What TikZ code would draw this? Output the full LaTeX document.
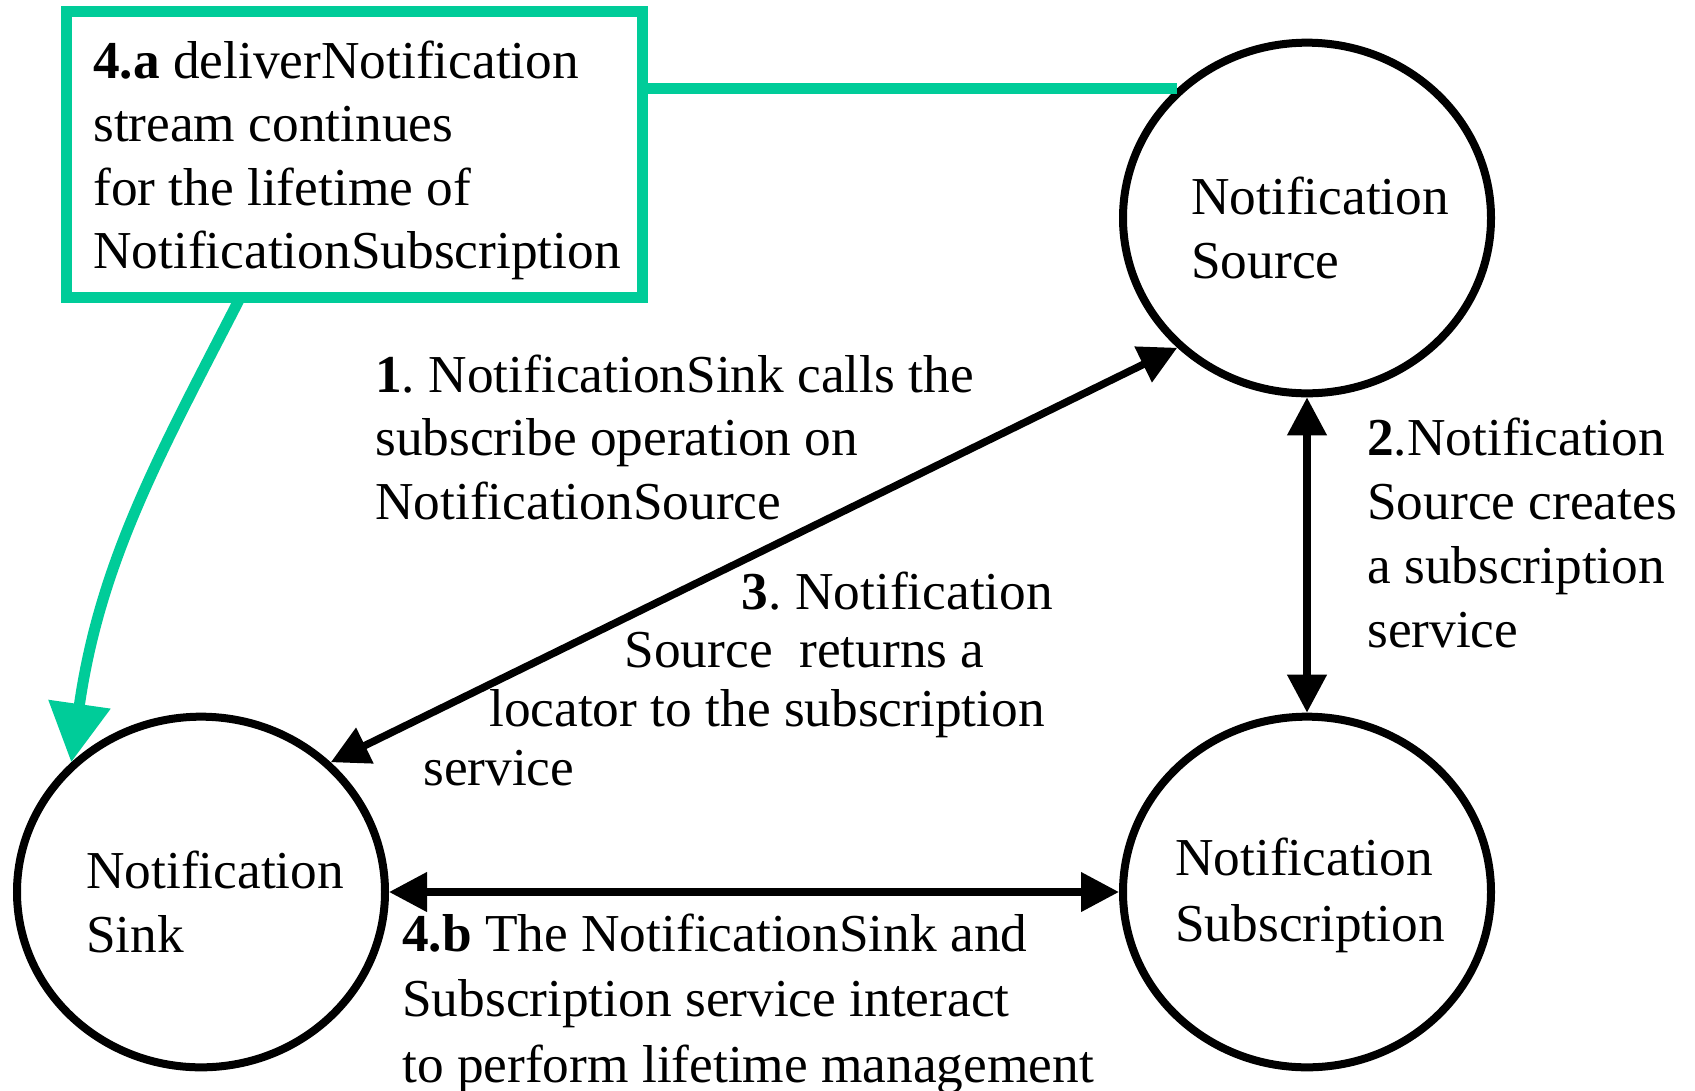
\documentclass[tikz,border=0pt]{standalone}
\usepackage{fontspec}
\setmainfont{Liberation Serif}
\usetikzlibrary{arrows.meta,shapes.geometric}
\definecolor{teal}{HTML}{00CC99}
\frenchspacing
\begin{document}
\begin{tikzpicture}[x=0.75pt,y=-0.75pt,
  bubble/.style={draw,ellipse,line width=6pt,minimum width=276pt,minimum height=263pt,inner sep=0pt},
  txt/.style={inner sep=0pt,anchor=base west,align=left,font=\fontsize{40pt}{47.6pt}\selectfont},
  blk/.style={line width=5.6pt,{Triangle[length=28.5pt,width=28.5pt]}-{Triangle[length=28.5pt,width=28.5pt]}},
  grn/.style={draw=teal,line width=8.25pt}]
\useasboundingbox (0,0) rectangle (1695,1090);
\fill[white] (0,0) rectangle (1695,1090);
% nodes
\node[bubble] (src) at (1307,218) {};
\node[bubble] (sink) at (201,892) {};
\node[bubble] (sub) at (1307,892) {};
\node[grn,rectangle,minimum width=432pt,minimum height=215pt,inner sep=0pt] (box) at (354,154.5) {};
% texts (anchor = baseline of the last line)
\node[txt] (tbox) at (93,268.5) {\textbf{4.a} deliverNotification\\stream continues\\for the lifetime of\\NotificationSubscription};
\node[txt] (tsrc) at (1191,278) {Notification\\Source};
\node[txt] (tsink) at (86,952) {Notification\\Sink};
\node[txt,font=\fontsize{40pt}{49.5pt}\selectfont] (tsub) at (1175,941) {Notification\\Subscription};
\node[txt] (t1) at (375,519) {\textbf{1}. NotificationSink calls the\\subscribe operation on\\NotificationSource};
\node[txt,font=\fontsize{40pt}{48pt}\selectfont] (t2) at (1367,647) {\textbf{2}.Notification\\Source creates\\a subscription\\service};
\node[txt,font=\fontsize{40pt}{44pt}\selectfont] (t3) at (423,785) {\hspace*{239pt}\textbf{3}. Notification\\\hspace*{151pt}Source\ \ returns a\\\hspace*{49.5pt}locator to the subscription\\service};
\node[txt,font=\fontsize{40pt}{48.8pt}\selectfont] (t4) at (402,1082) {\textbf{4.b} The NotificationSink and\\Subscription service interact\\to perform lifetime management};
% connectors
\draw[blk] (sink.45) -- (src.225);
\draw[blk] (src.south) -- (sub.north);
\draw[blk] (sink.east) -- (sub.west);
\draw[grn] (box.east |- src.135) -- (src.135);
\coordinate (gs) at (240,298);
\draw[grn,-{Triangle[length=44pt,width=45pt]}] (gs) .. controls (162,450) and (100,560) .. (sink.135);
\end{tikzpicture}
\end{document}
